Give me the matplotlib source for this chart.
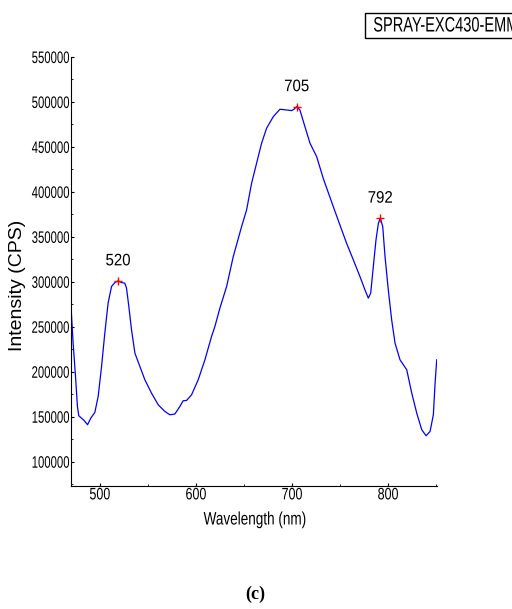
import numpy as np
import matplotlib.pyplot as plt
from matplotlib.ticker import FixedLocator, MultipleLocator, FuncFormatter
from matplotlib.patheffects import AbstractPathEffect
from matplotlib.transforms import Affine2D
from matplotlib.path import Path
from matplotlib.patches import Rectangle

# Emission spectrum
wavelength = [470, 472.2, 474.7, 476.7, 478.1, 480.9, 483.6, 487.2, 490.6, 494.8,
              498.3, 501.8, 505.2, 508.6, 512.2, 515.6, 519, 522.6, 526, 527.8,
              530.2, 533, 536.5, 541.7, 546.9, 553.8, 560.8, 567.7, 572.9, 578.1,
              583.3, 586.8, 590.3, 595.5, 602.4, 609.4, 616.3, 619.8, 625, 632,
              638.9, 647.6, 652.8, 658, 663.2, 668.4, 673.6, 680.6, 687.5, 694.5,
              699.7, 702.1, 704.9, 708.3, 713.5, 718.8, 725.7, 732.6, 743, 750,
              756.9, 763.9, 770.8, 776, 779.5, 782, 784.7, 787.5, 790, 792,
              794.5, 796.9, 800.3, 803.8, 807.3, 812.5, 819.5, 824.7, 829.9, 835.1,
              839.6, 843.8, 847.2, 849, 850.7]
intensity = [272600, 231900, 194800, 161400, 151100, 148500, 145900, 141100, 148500, 154800,
             172600, 205900, 243000, 276300, 294800, 299200, 301100, 299200, 298500, 293000,
             272600, 246700, 220800, 205900, 191100, 176300, 163300, 155900, 152200, 153000,
             161400, 167800, 168100, 174400, 191100, 213300, 239200, 250400, 270800, 294800,
             328100, 361500, 380000, 409700, 431900, 454100, 470800, 483700, 491900, 491100,
             490400, 491900, 494800, 491100, 472600, 454100, 439300, 415000, 383700, 363000,
             342900, 324400, 305900, 291100, 281900, 287400, 317000, 346700, 365200, 370800,
             361500, 328100, 291100, 257800, 231900, 213300, 202200, 176300, 154100, 135600,
             128900, 133700, 152200, 187400, 213300]

peak_wl = [519, 704.9, 792]
peak_val = [301100, 494800, 370800]
peak_labels = ["520", "705", "792"]

y_ticks = [100000, 150000, 200000, 250000, 300000, 350000, 400000, 450000, 500000, 550000]
x_ticks = [500, 600, 700, 800]


# squeeze text horizontally (the original uses a very narrow font)
class Condense(AbstractPathEffect):
    def __init__(self, sx=0.7, anchor='center'):
        super().__init__()
        self.sx = sx
        self.anchor = anchor

    def draw_path(self, renderer, gc, tpath, affine, rgbFace=None):
        verts = affine.transform(tpath.vertices)
        if tpath.codes is not None:
            verts = verts[tpath.codes != Path.CLOSEPOLY]
        if len(verts):
            xmin, xmax = verts[:, 0].min(), verts[:, 0].max()
            x0 = {'left': xmin, 'right': xmax, 'center': (xmin + xmax) / 2}[self.anchor]
            affine = affine + Affine2D().translate(-x0, 0).scale(self.sx, 1).translate(x0, 0)
        renderer.draw_path(gc, tpath, affine, rgbFace)


plt.rcParams['font.family'] = ['Liberation Sans', 'DejaVu Sans']

fig = plt.figure(figsize=(5.12, 6.09), dpi=100)
ax = fig.add_axes([71 / 512, 1 - 486 / 609, (437 - 71) / 512, (486 - 57) / 609])

ax.plot(wavelength, intensity, color='#0000ff', lw=0.9)
ax.plot(peak_wl, peak_val, '+', color='red', ms=6, mew=1)
for wl, val, lab in zip(peak_wl, peak_val, peak_labels):
    ax.annotate(lab, (wl, val), xytext=(0, 14.4), textcoords='offset points',
                ha='center', va='center', fontsize=12,
                path_effects=[Condense(0.9, 'center')])

ax.set_xlim(470, 851)
ax.set_ylim(73000, 550000)
ax.xaxis.set_major_locator(FixedLocator(x_ticks))
ax.xaxis.set_minor_locator(MultipleLocator(50))
ax.yaxis.set_major_locator(FixedLocator(y_ticks))
ax.yaxis.set_minor_locator(MultipleLocator(25000))
ax.yaxis.set_major_formatter(FuncFormatter(lambda v, p: f"{int(v)}"))

ax.spines['top'].set_visible(False)
ax.spines['right'].set_visible(False)
ax.tick_params(which='both', direction='in', labelsize=12, pad=1)
ax.tick_params(which='major', length=2.5)
ax.tick_params(which='minor', length=1.5)

fig.text(255 / 512, 1 - 520 / 609, "Wavelength (nm)", ha='center', va='center',
         fontsize=13, path_effects=[Condense(0.75, 'center')])
fig.text(18 / 512, 1 - 285 / 609, "Intensity (CPS)", rotation=90, ha='center', va='center',
         fontsize=14)

# label box in the top right corner
fig.patches.append(Rectangle((365 / 512, 1 - 38 / 609), 0.5, 25 / 609, transform=fig.transFigure,
                             fc='white', ec='black', lw=1))
fig.text(373 / 512, 1 - 26 / 609, "SPRAY-EXC430-EMM", ha='left', va='center', fontsize=15,
         path_effects=[Condense(0.7, 'left')])

fig.text(255 / 512, 1 - 594 / 609, "(c)", ha='center', va='center', fontsize=13,
         fontweight='bold', family=['Liberation Serif', 'DejaVu Serif'])

fig.canvas.draw()
for lbl in ax.get_yticklabels():
    lbl.set_path_effects([Condense(0.68, 'right')])
for lbl in ax.get_xticklabels():
    lbl.set_path_effects([Condense(0.75, 'center')])

fig.savefig("out.png", dpi=100)
